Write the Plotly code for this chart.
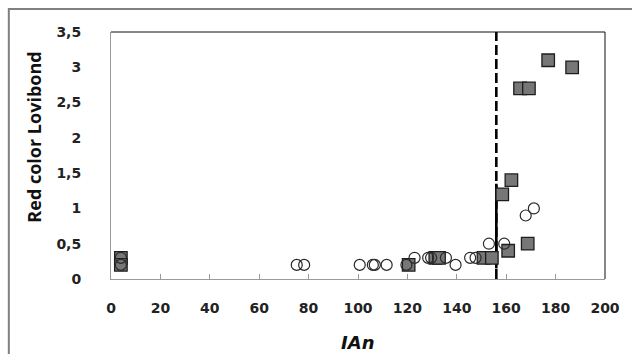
import plotly.graph_objects as go

# IAn vs. red colour (Lovibond) — two sample groups
sq_x = [4.0, 4.0, 120.5, 131.3, 132.8, 150.8, 154.2, 158.4, 160.8, 162.1, 165.6, 169.2, 168.7, 177.0, 186.7]
sq_y = [0.3, 0.2, 0.2, 0.3, 0.3, 0.3, 0.3, 1.2, 0.4, 1.4, 2.7, 2.7, 0.5, 3.1, 3.0]

ci_x = [4.0, 4.0, 75.2, 78.2, 100.7, 106.0, 106.8, 111.6, 119.6, 122.9, 128.4, 129.6,
        135.6, 139.5, 145.4, 147.6, 153.0, 159.2, 167.9, 171.2]
ci_y = [0.3, 0.2, 0.2, 0.2, 0.2, 0.2, 0.2, 0.2, 0.2, 0.3, 0.3, 0.3,
        0.3, 0.2, 0.3, 0.3, 0.5, 0.5, 0.9, 1.0]

# threshold marker on the IAn axis
limit_x = [156, 156]
limit_y = [0, 3.5]
limit_solid_y = [0.15, 1.35]

W, H = 632, 354
L, R, T, B = 111, 23, 32, 75

fig = go.Figure()

fig.add_trace(go.Scatter(
    x=limit_x, y=limit_y, mode="lines",
    line=dict(color="black", width=2.6, dash="10px,4px"),
    hoverinfo="skip", showlegend=False))
fig.add_trace(go.Scatter(
    x=limit_x, y=limit_solid_y, mode="lines",
    line=dict(color="black", width=2.6),
    hoverinfo="skip", showlegend=False))

fig.add_trace(go.Scatter(
    x=sq_x, y=sq_y, mode="markers",
    marker=dict(symbol="square", size=12.5, color="#777777",
                line=dict(color="#1e1e1e", width=1.3)),
    showlegend=False))
fig.add_trace(go.Scatter(
    x=ci_x, y=ci_y, mode="markers",
    marker=dict(symbol="circle-open", size=11, color="#2a2a2a",
                line=dict(color="#2a2a2a", width=1.2)),
    showlegend=False))

tick_font = dict(family="DejaVu Sans", size=14, color="#222222", weight="bold")

fig.update_xaxes(
    range=[0, 200], tickvals=list(range(0, 201, 20)),
    showgrid=False, zeroline=False,
    showline=True, linecolor="#9a9a9a", linewidth=1,
    ticks="inside", ticklen=5, tickcolor="#9a9a9a", tickwidth=1,
    tickfont=tick_font, ticklabelstandoff=16)
fig.update_yaxes(
    range=[0, 3.5], dtick=0.5,
    showgrid=False, zeroline=False,
    showline=True, linecolor="#9a9a9a", linewidth=1,
    ticks="", tickfont=tick_font, ticklabelstandoff=26)

# top and right edges of the plotting frame
fig.add_shape(type="line", xref="paper", yref="paper", x0=0, x1=1, y0=1, y1=1,
              line=dict(color="#111111", width=1))
fig.add_shape(type="line", xref="paper", yref="paper", x0=1, x1=1, y0=0, y1=1,
              line=dict(color="#111111", width=1))

# outer chart border (left and top visible)
pw, ph = W - L - R, H - T - B
def px_x(p):
    return (p - L) / pw
def px_y(p):
    return (H - B - p) / ph
fig.add_shape(type="rect", xref="paper", yref="paper",
              x0=px_x(8), x1=px_x(W + 20), y0=px_y(H + 20), y1=px_y(9),
              line=dict(color="#808080", width=2))

fig.add_annotation(
    text="<b>Red color Lovibond</b>", xref="paper", yref="paper",
    x=px_x(33), y=px_y(137), xanchor="center", yanchor="middle",
    textangle=-90, showarrow=False,
    font=dict(family="Open Sans", size=18, color="#111111"))
fig.add_annotation(
    text="<i>IAn</i>", xref="paper", yref="paper",
    x=px_x(359), y=px_y(342), xanchor="center", yanchor="middle",
    showarrow=False,
    font=dict(family="DejaVu Sans", size=18, color="#111111", weight="bold"))

fig.update_layout(
    width=W, height=H, margin=dict(l=L, r=R, t=T, b=B),
    paper_bgcolor="white", plot_bgcolor="white",
    separators=",.", showlegend=False)

fig.write_html("out.html")
